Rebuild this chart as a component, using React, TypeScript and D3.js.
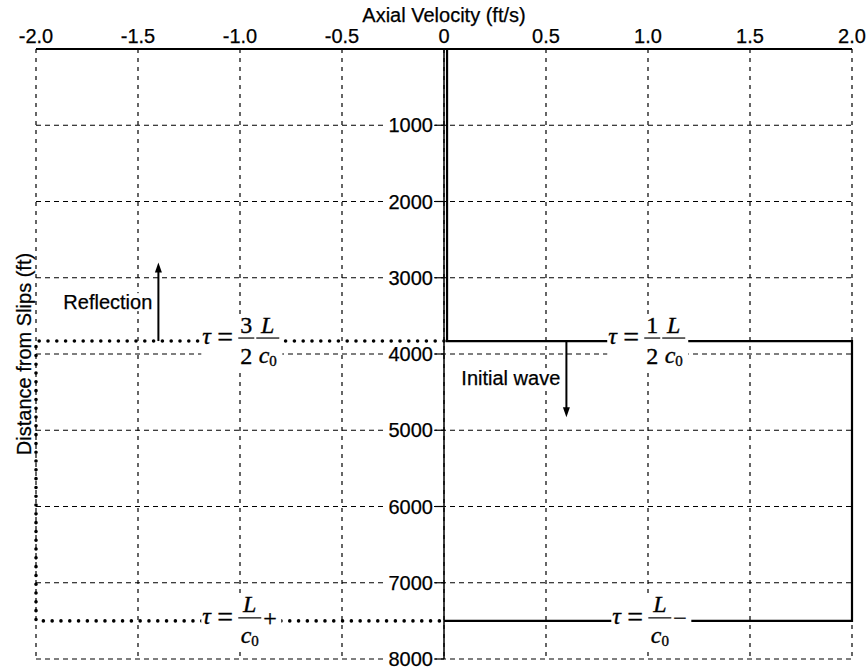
import React, { useLayoutEffect, useRef, useState } from "react";
import * as d3 from "d3";

// axis ticks
const velocityTicks = [-2.0, -1.5, -1.0, -0.5, 0, 0.5, 1.0, 1.5, 2.0];
const velocityTickLabels = ["-2.0", "-1.5", "-1.0", "-0.5", "0", "0.5", "1.0", "1.5", "2.0"];
const distanceTicks = [1000, 2000, 3000, 4000, 5000, 6000, 7000, 8000];

// velocity profile (solid) and reflected wave front (dotted)
const profileVelocity = [0.015, 0.015, 2.0, 2.0, 0];
const profileDistance = [0, 3830, 3830, 7500, 7500];
const reflectedVelocity = [0, -2.0, -2.0, 0];
const reflectedDistance = [3830, 3830, 7500, 7500];

// arrows + their labels
const arrowVelocity = [-1.4, 0.6];
const arrowStart = [3830, 3830];
const arrowEnd = [2800, 4830];
const arrowLabels = ["Reflection", "Initial wave"];
const arrowLabelVelocity = [-1.43, 0.57];
const arrowLabelDistance = [3320, 4318];

// tau annotations
const tauVelocity = [-1.18, 0.81, -1.18, 0.83];
const tauDistance = [3830, 3830, 7500, 7500];
const tauCoef = ["3/2", "1/2", "", ""];
const tauSuffix = ["", "", "+", "\u2212"];

const W = 867;
const H = 668;
const sans = "'Liberation Sans', Arial, Helvetica, sans-serif";
const serif = "'Liberation Serif', 'Times New Roman', serif";

const x = d3.scaleLinear().domain([-2, 2]).range([36, 852]);
const y = d3.scaleLinear().domain([0, 8000]).range([49, 659]);

// text with a white box behind it, measured after render
function BoxedText({ x, y, anchor, children, size = 20 }: any) {
  const ref = useRef<SVGTextElement>(null);
  const [box, setBox] = useState<any>(null);
  useLayoutEffect(() => {
    if (ref.current) {
      const b = ref.current.getBBox();
      setBox({ x: b.x, y: b.y, w: b.width, h: b.height });
    }
  }, [children, x, y]);
  return (
    <g>
      {box && <rect x={box.x - 1} y={box.y + 2} width={box.w + 2} height={box.h - 4} fill="white" />}
      <text ref={ref} x={x} y={y} textAnchor={anchor} dominantBaseline="central"
        style={{ fontFamily: sans, fontSize: size }} stroke="black" strokeWidth={0.25}>{children}</text>
    </g>
  );
}

function TauLabel({ px, py, coef, suffix }: any) {
  const [num, den] = coef ? coef.split("/") : ["", ""];
  const fracL = coef ? 53 : 35;
  const fracR = fracL + 23;
  const end = coef ? fracR + 3 : fracR + 20;
  return (
    <g transform={`translate(${px},${py})`} style={{ fontFamily: serif, fontSize: 24 }}
      stroke="black" strokeWidth={0.35}>
      <rect x={-2} y={-26} width={end + 2} height={56} fill="white" stroke="none" />
      <text x={-1} y={3} fontStyle="italic">τ</text>
      <text x={14} y={5} style={{ fontSize: 28 }}>=</text>
      {coef && (
        <g>
          <line x1={35} x2={51} y1={-3} y2={-3} stroke="black" strokeWidth={1.2} />
          <text x={43} y={-8.5} textAnchor="middle">{num}</text>
          <text x={43} y={22.5} textAnchor="middle">{den}</text>
        </g>
      )}
      <line x1={fracL} x2={fracR} y1={-3} y2={-3} stroke="black" strokeWidth={1.2} />
      <text x={(fracL + fracR) / 2} y={-8.5} textAnchor="middle" fontStyle="italic">L</text>
      <text x={(fracL + fracR) / 2} y={22} textAnchor="middle">
        <tspan fontStyle="italic">c</tspan>
        <tspan style={{ fontSize: 15 }} dy={3}>0</tspan>
      </text>
      {suffix && <text x={fracR + 2} y={5}>{suffix}</text>}
    </g>
  );
}

export default function App() {
  const profile = d3.line<[number, number]>()
    .x((d) => x(d[0]))
    .y((d) => y(d[1]))(profileVelocity.map((v, i) => [v, profileDistance[i]]));
  const reflected = d3.line<[number, number]>()
    .x((d) => x(d[0]))
    .y((d) => y(d[1]))(reflectedVelocity.map((v, i) => [v, reflectedDistance[i]]));

  const [x0, x1] = x.range();
  const [y0, y1] = y.range();
  const labelStyle = { fontFamily: sans, fontSize: 20 };

  return (
    <svg width={W} height={H} style={{ position: "absolute", left: 0, top: 0, background: "white" }}>
      {/* grid */}
      <g stroke="black" strokeWidth={1.2}>
        {velocityTicks.map((v) => (
          <line key={"gv" + v} x1={x(v)} x2={x(v)} y1={y0} y2={y1} strokeDasharray="4 5" />
        ))}
        {distanceTicks.map((d) => (
          <line key={"gh" + d} x1={x0} x2={x1} y1={y(d)} y2={y(d)} strokeDasharray="5 4" />
        ))}
      </g>

      {/* top axis */}
      <line x1={x0} x2={x1} y1={y0} y2={y0} stroke="black" strokeWidth={2} />
      <g stroke="black" strokeWidth={0.25}>
        {velocityTicks.map((v, i) => (
          <text key={"tx" + v} x={x(v)} y={y0 - 6} textAnchor="middle" style={labelStyle}>
            {velocityTickLabels[i]}
          </text>
        ))}
        <text x={(x0 + x1) / 2} y={22} textAnchor="middle" style={labelStyle}>
          Axial Velocity (ft/s)
        </text>
      </g>

      {/* center distance axis */}
      {distanceTicks.map((d) => (
        <g key={"ty" + d}>
          <rect x={x(0) - 58} y={y(d) - 9} width={48} height={18} fill="white" />
          <line x1={x(0) - 9} x2={x(0)} y1={y(d)} y2={y(d)} stroke="black" strokeWidth={1.2} />
          <text x={x(0) - 11} y={y(d)} textAnchor="end" dominantBaseline="central"
            style={labelStyle} stroke="black" strokeWidth={0.25}>{d}</text>
        </g>
      ))}
      <line x1={x(0)} x2={x(0)} y1={y0} y2={y1} stroke="black" strokeWidth={1.5} />
      <text transform={`translate(31,${(y0 + y1) / 2}) rotate(-90)`} textAnchor="middle"
        style={labelStyle} stroke="black" strokeWidth={0.25}>Distance from Slips (ft)</text>

      {/* profiles */}
      <path d={profile ?? ""} fill="none" stroke="black" strokeWidth={2.2} />
      <path d={reflected ?? ""} fill="none" stroke="black" strokeWidth={3.6}
        strokeDasharray="0 8.8" strokeLinecap="round" />

      {/* arrows */}
      {arrowVelocity.map((v, i) => {
        const ax = x(v);
        const ys = y(arrowStart[i]);
        const ye = y(arrowEnd[i]);
        const dir = ye < ys ? -1 : 1;
        return (
          <g key={"ar" + i}>
            <line x1={ax} x2={ax} y1={ys} y2={ye - dir * 6} stroke="black" strokeWidth={2} />
            <path d={`M${ax},${ye} L${ax - 3.5},${ye - dir * 10} L${ax + 3.5},${ye - dir * 10} Z`} fill="black" />
          </g>
        );
      })}
      {arrowLabels.map((t, i) => (
        <BoxedText key={t} x={x(arrowLabelVelocity[i])} y={y(arrowLabelDistance[i])} anchor="end">{t}</BoxedText>
      ))}

      {/* tau annotations */}
      {tauVelocity.map((v, i) => (
        <TauLabel key={"tau" + i} px={x(v)} py={y(tauDistance[i])} coef={tauCoef[i]} suffix={tauSuffix[i]} />
      ))}
    </svg>
  );
}
